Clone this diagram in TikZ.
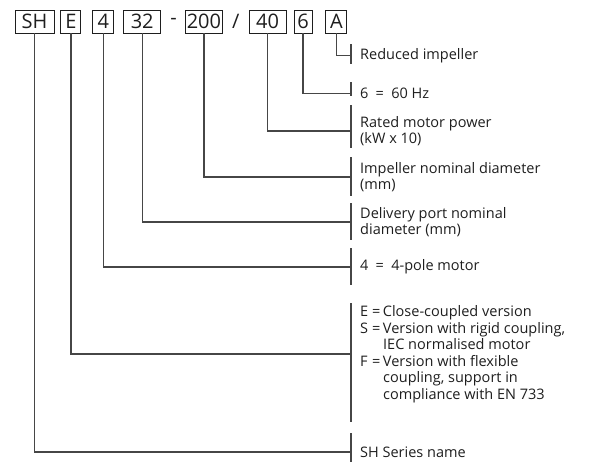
\documentclass[tikz,border=0pt]{standalone}
\usepackage{fontspec}
\setmainfont{Open Sans}
\usetikzlibrary{positioning}
\definecolor{linegray}{RGB}{70,70,70}
\definecolor{textgray}{RGB}{30,30,30}
\tikzstyle{codebox} = [
  rectangle, draw=textgray, line width=0.9pt,
  minimum height=23pt, inner sep=0pt, text=textgray,
  font=\fontsize{20}{20}\selectfont
]
\tikzstyle{sepsign} = [inner sep=0pt, text=textgray, font=\fontsize{20}{20}\selectfont]
\tikzstyle{desc} = [
  anchor=west, inner xsep=9pt, inner ysep=0pt, align=left,
  text=textgray, font=\fontsize{14.5}{16.5}\selectfont
]
\tikzstyle{conn} = [draw=linegray, line width=1.2pt]
\newcommand{\bracket}[3]{\draw[conn] ([yshift=#2]#1.west) -- ([yshift=-#3]#1.west);}
\newcommand{\opt}[1]{\makebox[12pt][l]{#1}=\,}

\begin{document}
\begin{tikzpicture}[x=1pt, y=-1pt]

\useasboundingbox (0,0) rectangle (589,461);

% Code boxes
\node (sh) [codebox, minimum width=39pt] at (34.5,21.5) {SH};
\node (e) [codebox, minimum width=20pt, right=6pt of sh] {E};
\node (four) [codebox, minimum width=21pt, right=11pt of e] {4};
\node (port) [codebox, minimum width=37pt, right=9pt of four] {32};
\node (dash) [sepsign, right=9pt of port] {-};
\node (imp) [codebox, minimum width=37pt, right=8pt of dash] {200};
\node (slash) [sepsign, right=9pt of imp] {/};
\node (kw) [codebox, minimum width=37pt, right=9pt of slash] {40};
\node (hz) [codebox, minimum width=18pt, right=7pt of kw] {6};
\node (red) [codebox, minimum width=21pt, right=13pt of hz] {A};

% Descriptions
\node (redl) [desc] at (351,55.5) {Reduced impeller};
\node (hzl) [desc] at (351,93.5) {6\enspace=\enspace60 Hz};
\node (kwl) [desc] at (351,131) {Rated motor power\\(kW x 10)};
\node (impl) [desc] at (351,177) {Impeller nominal diameter\\(mm)};
\node (portl) [desc] at (351,222) {Delivery port nominal\\diameter (mm)};
\node (fourl) [desc] at (351,267) {4\enspace=\enspace4-pole motor};
\node (el) [desc] at (351,354) {\opt{E}Close-coupled version\\
  \opt{S}Version with rigid coupling,\\
  \hspace{23pt}IEC normalised motor\\
  \opt{F}Version with flexible\\
  \hspace{23pt}coupling, support in\\
  \hspace{23pt}compliance with EN 733};
\node (shl) [desc] at (351,452) {SH Series name};

% Brackets
\bracket{redl}{11.5pt}{8.5pt}
\bracket{hzl}{11.5pt}{2.5pt}
\bracket{kwl}{26pt}{17pt}
\bracket{impl}{20pt}{19pt}
\bracket{portl}{19pt}{18pt}
\bracket{fourl}{19pt}{18pt}
\bracket{el}{51pt}{68pt}
\bracket{shl}{19pt}{10pt}

% Connectors
\draw [conn] (red.south) |- (redl.west);
\draw [conn] (hz.south) |- (hzl.west);
\draw [conn] (kw.south) |- (kwl.west);
\draw [conn] (imp.south) |- (impl.west);
\draw [conn] (port.south) |- (portl.west);
\draw [conn] (four.south) |- (fourl.west);
\draw [conn] (e.south) |- (el.west);
\draw [conn] (sh.south) |- (shl.west);

\end{tikzpicture}
\end{document}
